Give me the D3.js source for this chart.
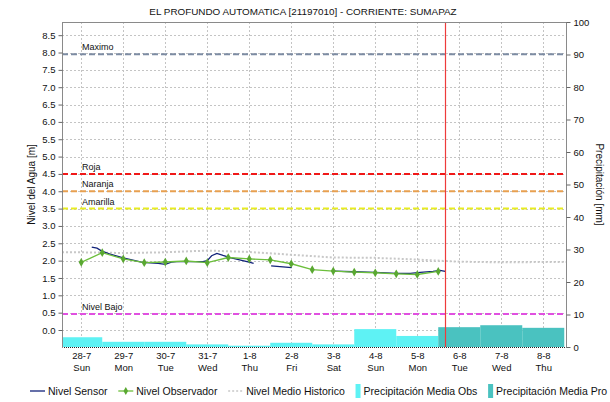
<!DOCTYPE html>
<html>
<head>
<meta charset="utf-8">
<script src="https://cdn.jsdelivr.net/npm/d3@7"></script>
<style>
  html, body { margin: 0; padding: 0; background: #fff; }
  svg { display: block; font-family: "Liberation Sans", Arial, sans-serif; }
</style>
</head>
<body>
<svg id="chart" width="610" height="402"></svg>
<script>
// ---- Data ---------------------------------------------------------------
const chartTitle = "EL PROFUNDO AUTOMATICA [21197010] - CORRIENTE: SUMAPAZ";

// Day ticks (midnight of each day) and their weekday names
const dayLabels = ["28-7", "29-7", "30-7", "31-7", "1-8", "2-8", "3-8", "4-8", "5-8", "6-8", "7-8", "8-8"];
const dayNames  = ["Sun", "Mon", "Tue", "Wed", "Thu", "Fri", "Sat", "Sun", "Mon", "Tue", "Wed", "Thu"];
const dayDates  = ["2024-07-28", "2024-07-29", "2024-07-30", "2024-07-31", "2024-08-01", "2024-08-02",
                   "2024-08-03", "2024-08-04", "2024-08-05", "2024-08-06", "2024-08-07", "2024-08-08"];

const levelTicks  = [0, 0.5, 1, 1.5, 2, 2.5, 3, 3.5, 4, 4.5, 5, 5.5, 6, 6.5, 7, 7.5, 8, 8.5];
const precipTicks = [0, 10, 20, 30, 40, 50, 60, 70, 80, 90, 100];

// Gauge reading by the observer (m)
const observadorTime = ["2024-07-28T00:00", "2024-07-28T12:00", "2024-07-29T00:00", "2024-07-29T12:00",
                        "2024-07-30T00:00", "2024-07-30T12:00", "2024-07-31T00:00", "2024-07-31T12:00",
                        "2024-08-01T00:00", "2024-08-01T12:00", "2024-08-02T00:00", "2024-08-02T12:00",
                        "2024-08-03T00:00", "2024-08-03T12:00", "2024-08-04T00:00", "2024-08-04T12:00",
                        "2024-08-05T00:00", "2024-08-05T12:00"];
const observadorValue = [1.95, 2.23, 2.05, 1.94, 1.96, 1.99, 1.94, 2.09, 2.05, 2.02, 1.91, 1.74,
                         1.70, 1.67, 1.65, 1.62, 1.60, 1.69];

// Automatic sensor level (m); null marks missing data
const sensorTime = ["2024-07-28T06:00", "2024-07-28T09:00", "2024-07-28T11:30", "2024-07-28T17:30",
                    "2024-07-29T00:00", "2024-07-29T11:00", "2024-07-29T20:00", "2024-07-30T00:00",
                    "2024-07-30T03:30", "2024-07-30T06:30", "2024-07-30T21:30", "2024-07-31T00:00",
                    "2024-07-31T02:30", "2024-07-31T05:30", "2024-07-31T09:00", "2024-07-31T13:00",
                    "2024-07-31T18:30", "2024-08-01T00:30", "2024-08-01T02:30", "2024-08-01T08:00",
                    "2024-08-01T12:30", "2024-08-02T00:15", "2024-08-02T06:00",
                    "2024-08-03T01:00", "2024-08-03T11:30", "2024-08-04T00:00", "2024-08-04T12:15",
                    "2024-08-04T20:00", "2024-08-05T01:40", "2024-08-05T09:00", "2024-08-05T13:00",
                    "2024-08-05T16:00"];
const sensorValue = [2.39, 2.36, 2.28, 2.17, 2.08, 1.95, 1.92, 1.89, 1.96, 1.97, 1.97, 2.00,
                     2.14, 2.21, 2.15, 2.09, 2.02, 1.95, 1.92, null,
                     1.85, 1.80, null,
                     1.70, 1.68, 1.66, 1.63, 1.635, 1.66, 1.69, 1.72, 1.69];

// Historical mean level (m)
const historicoTime = ["2024-07-27T13:00", "2024-07-28T00:00", "2024-07-29T00:00", "2024-07-30T00:00",
                       "2024-07-31T00:00", "2024-08-01T00:00", "2024-08-02T00:00", "2024-08-03T00:00",
                       "2024-08-04T00:00", "2024-08-05T00:00", "2024-08-06T00:00", "2024-08-07T00:00",
                       "2024-08-08T00:00", "2024-08-08T13:00"];
const historicoValue = [2.24, 2.24, 2.22, 2.24, 2.29, 2.25, 2.17, 2.09, 2.08, 2.03, 1.97, 1.95, 1.96, 1.96];

// Daily mean precipitation (mm): observed and forecast
const precipObsDay   = ["2024-07-28", "2024-07-29", "2024-07-30", "2024-07-31", "2024-08-01",
                        "2024-08-02", "2024-08-03", "2024-08-04", "2024-08-05"];
const precipObsValue = [3.0, 1.6, 1.6, 0.8, 0.4, 1.3, 0.8, 5.5, 3.4];
const precipProDay   = ["2024-08-06", "2024-08-07", "2024-08-08"];
const precipProValue = [6.1, 6.7, 5.9];

// Alert thresholds (m)
const thresholdName  = ["Maximo", "Roja", "Naranja", "Amarilla", "Nivel Bajo"];
const thresholdValue = [7.95, 4.5, 4.0, 3.5, 0.46];
const thresholdColor = ["#7d8ca3", "#f01818", "#e8a050", "#e8ec20", "#e050e0"];

const nowTime = "2024-08-05T16:00";
const domainStart = "2024-07-27T13:00";
const domainEnd   = "2024-08-08T13:00";

// ---- Layout -------------------------------------------------------------
const svg = d3.select("#chart");
const pL = 62, pR = 566, pT = 22, pB = 347;
const parse = s => new Date(s.length === 10 ? s + "T00:00" : s);
const HOUR = 3600 * 1000;

const x = d3.scaleTime().domain([parse(domainStart), parse(domainEnd)]).range([pL, pR]);
const yL = d3.scaleLinear().domain([-0.49, 8.88]).range([pB, pT]);
const yR = d3.scaleLinear().domain([0, 100]).range([pB, pT]);

svg.append("defs").append("clipPath").attr("id", "plot")
  .append("rect").attr("x", pL).attr("y", pT).attr("width", pR - pL).attr("height", pB - pT);

// Title
svg.append("text").attr("x", 303).attr("y", 15).attr("text-anchor", "middle")
  .attr("font-size", 9.9).attr("fill", "#111").text(chartTitle);

// Grid
const grid = svg.append("g").attr("stroke", "#c4c4c4").attr("stroke-dasharray", "2,2").attr("stroke-width", 1);
levelTicks.forEach(v => {
  const py = Math.round(yL(v)) + 0.5;
  grid.append("line").attr("x1", pL).attr("x2", pR).attr("y1", py).attr("y2", py);
});
dayDates.forEach(d => {
  const px = Math.round(x(parse(d))) + 0.5;
  grid.append("line").attr("x1", px).attr("x2", px).attr("y1", pT).attr("y2", pB);
});

// Precipitation bars: each day spans noon of the previous day to noon of that day
const bars = svg.append("g").attr("clip-path", "url(#plot)");
function drawBars(days, values, color) {
  bars.selectAll(null).data(days.map((d, i) => ({ d: parse(d), v: values[i] }))).enter()
    .append("rect")
    .attr("x", d => x(new Date(+d.d - 12 * HOUR)))
    .attr("width", d => x(new Date(+d.d + 12 * HOUR)) - x(new Date(+d.d - 12 * HOUR)))
    .attr("y", d => yR(d.v))
    .attr("height", d => yR(0) - yR(d.v))
    .attr("fill", color);
}
drawBars(precipObsDay, precipObsValue, "#5ef2f4");
drawBars(precipProDay, precipProValue, "#4ac2c0");

// Thresholds
const thr = svg.append("g");
thresholdValue.forEach((v, i) => {
  thr.append("line").attr("x1", pL).attr("x2", pR).attr("y1", yL(v)).attr("y2", yL(v))
    .attr("stroke", thresholdColor[i]).attr("stroke-width", 2).attr("stroke-dasharray", "6,3");
  thr.append("text").attr("x", 82).attr("y", yL(v) - 4).attr("font-size", 9).attr("fill", "#111")
    .text(thresholdName[i]);
});

// Historical mean
const lineL = d3.line().x(d => x(d.t)).y(d => yL(d.v)).defined(d => d.v != null);
svg.append("path")
  .datum(historicoTime.map((t, i) => ({ t: parse(t), v: historicoValue[i] })))
  .attr("d", lineL).attr("fill", "none").attr("stroke", "#c8c8c8").attr("stroke-width", 2)
  .attr("stroke-dasharray", "2,2").attr("clip-path", "url(#plot)");

// Sensor line
svg.append("path")
  .datum(sensorTime.map((t, i) => ({ t: parse(t), v: sensorValue[i] })))
  .attr("d", lineL).attr("fill", "none").attr("stroke", "#12237a").attr("stroke-width", 1.3);

// Observer line and markers
const obs = observadorTime.map((t, i) => ({ t: parse(t), v: observadorValue[i] }));
svg.append("path").datum(obs).attr("d", lineL).attr("fill", "none")
  .attr("stroke", "#6cbf3c").attr("stroke-width", 1.3);
svg.append("g").selectAll("path").data(obs).enter().append("path")
  .attr("d", d3.symbol(d3.symbolDiamond, 22))
  .attr("transform", d => `translate(${x(d.t)},${yL(d.v)})`)
  .attr("fill", "#5aa832");

// Current time marker
const nx = Math.round(x(parse(nowTime))) + 0.5;
svg.append("line").attr("x1", nx).attr("x2", nx).attr("y1", pT).attr("y2", pB)
  .attr("stroke", "#ee3b3b").attr("stroke-width", 1.2);

// Frame: top border, axes
svg.append("line").attr("x1", pL).attr("x2", pR).attr("y1", pT + 0.5).attr("y2", pT + 0.5).attr("stroke", "#8a8a8a");
svg.append("line").attr("x1", pL).attr("x2", pR).attr("y1", pB + 0.5).attr("y2", pB + 0.5)
  .attr("stroke", "#222").attr("stroke-dasharray", "1,1");

const axL = svg.append("g").attr("transform", `translate(${pL + 0.5},0)`)
  .call(d3.axisLeft(yL).tickValues(levelTicks).tickFormat(d3.format(".1f")).tickSize(4).tickPadding(3));
const axR = svg.append("g").attr("transform", `translate(${pR + 0.5},0)`)
  .call(d3.axisRight(yR).tickValues(precipTicks).tickSize(4).tickPadding(3));
[axL, axR].forEach(a => {
  a.select(".domain").attr("stroke", "#8a8a8a").attr("d", `M0,${pT}V${pB + 1}`);
  a.selectAll(".tick line").attr("stroke", "#666");
  a.selectAll("text").attr("font-size", 9.5).attr("fill", "#111").attr("font-family", "Liberation Sans, Arial, sans-serif");
});

const axB = svg.append("g").attr("transform", `translate(0,${pB + 0.5})`)
  .call(d3.axisBottom(x).tickValues(dayDates.map(parse)).tickSize(0).tickPadding(5).tickFormat(() => ""));
axB.select(".domain").remove();
axB.selectAll(".tick text").each(function (d, i) {
  const t = d3.select(this).attr("font-size", 9.5).attr("fill", "#111")
    .attr("font-family", "Liberation Sans, Arial, sans-serif");
  t.append("tspan").attr("x", 0).attr("dy", "0.71em").text(dayLabels[i]);
  t.append("tspan").attr("x", 0).attr("dy", "1.2em").text(dayNames[i]);
});

// Axis titles
svg.append("text").attr("transform", `translate(35,${(pT + pB) / 2}) rotate(-90)`)
  .attr("text-anchor", "middle").attr("font-size", 10).attr("fill", "#111").text("Nivel del Agua [m]");
svg.append("text").attr("transform", `translate(596,${(pT + pB) / 2}) rotate(90)`)
  .attr("text-anchor", "middle").attr("font-size", 10).attr("fill", "#111").text("Precipitación [mm]");

// Legend: items spread across the bottom row from x=30 to x=607
const legend = svg.append("g").attr("font-size", 10.5).attr("fill", "#111");
const ly = 391, legendStart = 30, legendEnd = 607;
const items = [
  { name: "Nivel Sensor", kind: "line", color: "#12237a" },
  { name: "Nivel Observador", kind: "marker", color: "#6cbf3c" },
  { name: "Nivel Medio Historico", kind: "dots", color: "#c8c8c8" },
  { name: "Precipitación Media Obs", kind: "box", color: "#5ef2f4" },
  { name: "Precipitación Media Pro", kind: "box", color: "#4ac2c0" }
];
const groups = items.map(it => {
  const g = legend.append("g");
  let sw;
  if (it.kind === "box") {
    g.append("rect").attr("x", 0).attr("y", ly - 7).attr("width", 5).attr("height", 14).attr("fill", it.color);
    sw = 5;
  } else {
    const l = g.append("line").attr("x1", 0).attr("x2", 15).attr("y1", ly).attr("y2", ly)
      .attr("stroke", it.color).attr("stroke-width", it.kind === "dots" ? 1.5 : 1.3);
    if (it.kind === "dots") l.attr("stroke-dasharray", "2,2");
    if (it.kind === "marker") {
      g.append("path").attr("d", d3.symbol(d3.symbolDiamond, 18))
        .attr("transform", `translate(7.5,${ly})`).attr("fill", "#5aa832");
    }
    sw = 15;
  }
  const t = g.append("text").attr("x", sw + 3).attr("y", ly + 4).text(it.name);
  return { g, w: sw + 3 + t.node().getComputedTextLength() };
});
const used = d3.sum(groups, d => d.w);
const gap = (legendEnd - legendStart - used) / (groups.length - 1);
let lx = legendStart;
groups.forEach(d => { d.g.attr("transform", `translate(${lx},0)`); lx += d.w + gap; });
</script>
</body>
</html>
